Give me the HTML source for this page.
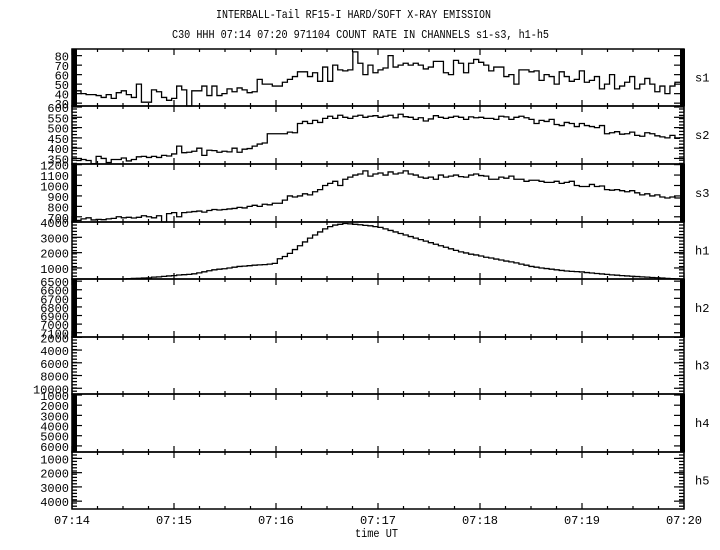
<!DOCTYPE html>
<html><head><meta charset="utf-8"><style>
html,body{margin:0;padding:0;background:#fff;}
svg{display:block;}
text{font-family:"Liberation Mono",monospace;font-size:12px;fill:#000;}
</style></head><body>
<svg id="chart" width="720" height="550" viewBox="0 0 720 550" xmlns="http://www.w3.org/2000/svg">
<text x="216" y="18" textLength="275" lengthAdjust="spacingAndGlyphs">INTERBALL-Tail RF15-I HARD/SOFT X-RAY EMISSION</text>
<text x="172" y="38" textLength="377" lengthAdjust="spacingAndGlyphs">C30 HHH 07:14 07:20 971104  COUNT RATE IN CHANNELS s1-s3, h1-h5</text>
<text x="355" y="537" textLength="43" lengthAdjust="spacingAndGlyphs">time UT</text>
<g id="g"></g>
</svg>
<script>
const timeLabels=["07:14","07:15","07:16","07:17","07:18","07:19","07:20"];
const panelNames=["s1","s2","s3","h1","h2","h3","h4","h5"];
const s1=[43,40,39,39,38,36,39,35,41,43,39,36,50,31,31,44,42,36,33,35,48,44,25,43,43,48,38,48,38,40,45,42,46,44,41,42,55,50,50,48,48,52,55,58,63,63,58,62,53,68,53,70,65,64,65,84,72,60,70,62,65,67,80,68,70,72,70,72,70,66,68,74,74,62,60,75,72,62,72,76,73,70,64,68,68,58,60,50,65,65,63,64,54,60,58,50,63,58,53,55,64,52,54,58,45,50,60,45,48,52,58,45,50,56,50,42,48,40,48,52];
const s2=[340,345,340,325,360,350,330,345,345,352,338,345,358,360,355,360,355,365,362,372,410,378,380,385,400,365,390,388,380,385,382,400,380,395,398,410,420,425,470,470,470,470,478,475,520,530,520,535,525,545,555,545,560,550,545,555,560,550,555,558,550,555,560,548,565,553,550,540,548,532,542,558,550,545,550,555,550,540,552,548,550,545,545,540,555,552,540,550,555,548,540,520,535,530,540,515,510,525,520,505,520,510,505,500,510,470,475,480,468,470,478,462,458,475,470,460,455,450,462,448];
const s3=[665,680,690,670,675,672,680,685,700,690,695,688,695,710,700,690,710,650,730,740,700,740,745,750,755,745,760,770,765,770,775,780,790,785,800,810,800,820,815,830,830,860,900,890,900,920,910,940,960,1000,1020,1040,1000,1060,1080,1100,1110,1140,1090,1110,1120,1100,1130,1110,1120,1140,1110,1100,1080,1070,1080,1060,1100,1080,1090,1100,1085,1080,1100,1110,1095,1090,1060,1060,1080,1070,1090,1060,1060,1040,1050,1050,1040,1030,1030,1040,1020,1030,1040,1000,990,990,1010,990,995,960,955,960,950,940,950,930,910,920,900,910,890,880,890,880];
const h1=[250,250,250,250,250,250,250,250,250,250,300,320,330,340,350,400,420,450,480,500,540,560,580,620,680,750,820,880,920,950,1000,1050,1100,1120,1150,1180,1200,1220,1250,1300,1600,1750,1950,2200,2450,2700,2950,3150,3350,3550,3700,3800,3850,3900,3880,3850,3820,3780,3750,3700,3650,3550,3450,3350,3250,3150,3050,2950,2850,2750,2650,2550,2450,2350,2250,2150,2050,1980,1900,1850,1780,1700,1650,1580,1520,1450,1400,1330,1250,1180,1100,1050,1000,960,920,880,840,800,780,760,740,700,670,640,610,580,550,530,500,480,460,440,420,400,380,360,340,320,300,290];
const s1Ticks=[30,40,50,60,70,80], s2Ticks=[350,400,450,500,550,600], s3Ticks=[700,800,900,1000,1100,1200], h1Ticks=[1000,2000,3000,4000];
const h2Ticks=[6500,6600,6700,6800,6900,7000,7100], h3Ticks=[2000,4000,6000,8000,10000], h4Ticks=[1000,2000,3000,4000,5000,6000], h5Ticks=[1000,2000,3000,4000];
const NS="http://www.w3.org/2000/svg";
const g=document.getElementById('g');
const X0=72,X1=684;
const tops=[49,106,164,222,279,337,394,452,509];
function xScale(min){return X0+(X1-X0)*min/6;}
function mk(tag,attrs){const e=document.createElementNS(NS,tag);for(const k in attrs)e.setAttribute(k,attrs[k]);g.appendChild(e);return e;}
function yScaleFactory(i,lo,hi,inv){const t=tops[i],b=tops[i+1];return v=>inv? t+(v-lo)/(hi-lo)*(b-t) : b-(v-lo)/(hi-lo)*(b-t);}
const panels=[
 {data:s1,ticks:s1Ticks,lo:27,hi:87,dense:true},
 {data:s2,ticks:s2Ticks,lo:323,hi:605},
 {data:s3,ticks:s3Ticks,lo:650,hi:1206,dense:true},
 {data:h1,ticks:h1Ticks,lo:280,hi:4000},
 {ticks:h2Ticks,lo:6475,hi:7150,inv:true,dense:true},
 {ticks:h3Ticks,lo:1950,hi:10900,inv:true},
 {ticks:h4Ticks,lo:900,hi:6600,inv:true,dense:true},
 {ticks:h5Ticks,lo:550,hi:4550,inv:true}
];
panels.forEach((p,i)=>{
  const t=tops[i],b=tops[i+1];
  const y=yScaleFactory(i,p.lo,p.hi,p.inv);
  const fr=mk('rect',{x:X0,y:t,width:X1-X0,height:b-t,fill:'none',stroke:'#000','stroke-width':1.5});
  
  
  if(p.dense){
    const lb=mk('rect',{x:X0,y:t,width:5,height:b-t,fill:'#000'});
    
    
    const rb=mk('rect',{x:X1-4,y:t,width:5,height:b-t,fill:'#000'});
    
    
  } else {
    for(let yy=t+3;yy<b;yy+=3.2){
      mk('line',{x1:X0,x2:X0+5,y1:yy,y2:yy,stroke:'#000','stroke-width':1.3});
      mk('line',{x1:X1-5,x2:X1,y1:yy,y2:yy,stroke:'#000','stroke-width':1.3});
    }
  }
  p.ticks.forEach(v=>{
    const yy=y(v);
    mk('line',{x1:X0,x2:X0+10,y1:yy,y2:yy,stroke:'#000','stroke-width':1.2});
    mk('line',{x1:X1-10,x2:X1,y1:yy,y2:yy,stroke:'#000','stroke-width':1.2});
    const tx=mk('text',{x:X0-3,y:yy+5,'text-anchor':'end'});
    tx.textContent=String(v);
    
    
  });
  for(let q=0;q<=24;q++){
    const xx=xScale(q/4),len=q%4===0?6:3;
    mk('line',{x1:xx,x2:xx,y1:t,y2:t+len,stroke:'#000','stroke-width':1.2});
    mk('line',{x1:xx,x2:xx,y1:b,y2:b-len,stroke:'#000','stroke-width':1.2});
  }
  const pl=mk('text',{x:695,y:(t+b)/2+4});
  pl.textContent=panelNames[i];
  
  
  if(p.data){
    const n=p.data.length,w=(X1-X0-8)/n;
    const cl=v=>Math.max(t,Math.min(b,y(v)));
    let d='M'+(X0+4)+','+cl(p.data[0]);
    p.data.forEach((v,k)=>{const yy=cl(v);d+=' V'+yy+' H'+(X0+4+(k+1)*w).toFixed(2);});
    const path=mk('path',{d:d,fill:'none',stroke:'#000','stroke-width':1.3});
    
    
  }
});
timeLabels.forEach((s,k)=>{
  const tx=mk('text',{x:xScale(k),y:524,'text-anchor':'middle'});
  tx.textContent=s;
  
  
});
</script>
</body></html>
